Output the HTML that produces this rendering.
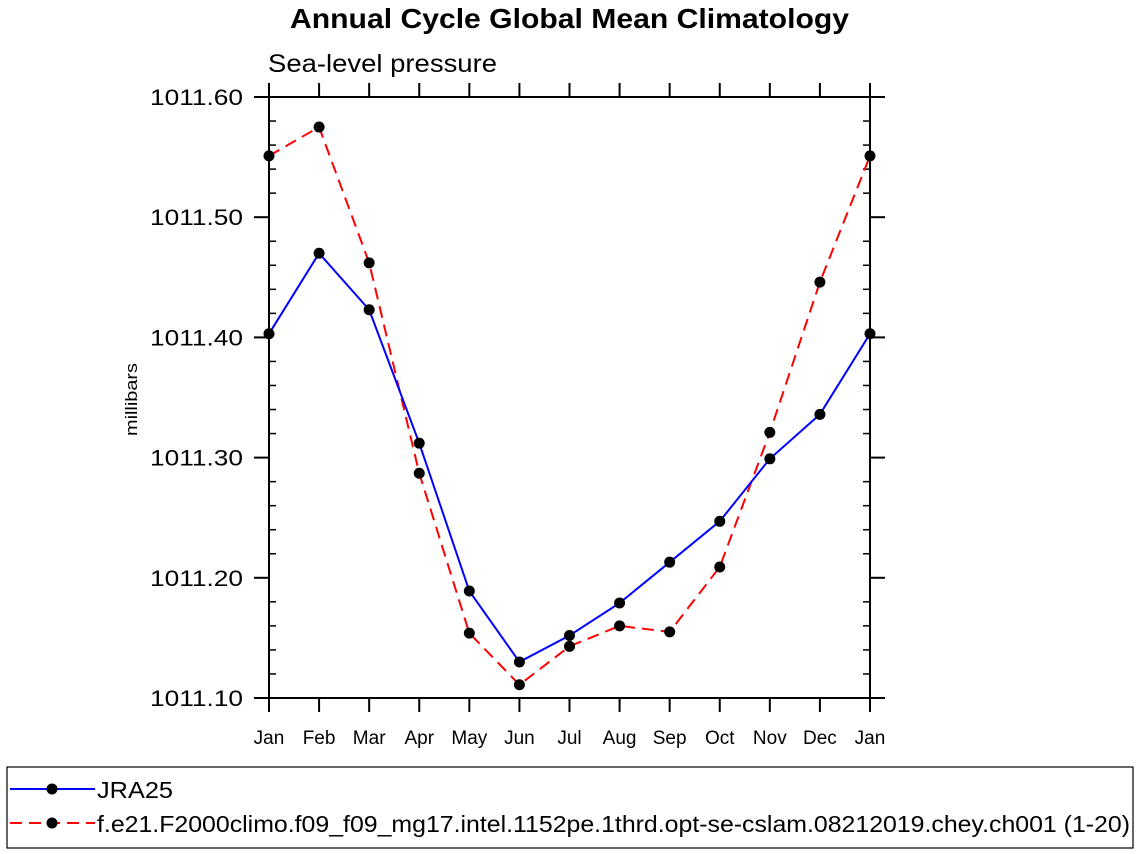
<!DOCTYPE html>
<html><head><meta charset="utf-8"><style>
body{margin:0;background:#fff;}
svg{display:block;font-family:"Liberation Sans",Arial,sans-serif;}
</style></head><body>
<svg id="chart" width="1138" height="854">
<text x="290" y="28" font-size="28" font-weight="bold" textLength="559" lengthAdjust="spacingAndGlyphs">Annual Cycle Global Mean Climatology</text>
<text x="268" y="72" font-size="25" textLength="229" lengthAdjust="spacingAndGlyphs">Sea-level pressure</text>
<text transform="translate(137,400) rotate(-90)" x="-36" y="0" font-size="17" textLength="73" lengthAdjust="spacingAndGlyphs">millibars</text>
<g id="axes"></g>
<g id="series"></g>
<g>
<rect x="7" y="767" width="1126" height="81" fill="none" stroke="#000" stroke-width="1.2"/>
<g>
<line x1="10" y1="789" x2="95" y2="789" stroke="#00f" stroke-width="2"/>
<circle cx="52" cy="789" r="5.5" fill="#000"/>
<text x="97" y="798" font-size="23" textLength="76" lengthAdjust="spacingAndGlyphs">JRA25</text></g>
<g>
<line x1="10" y1="823" x2="95" y2="823" stroke="#f00" stroke-width="2" stroke-dasharray="12,7"/>
<circle cx="52" cy="823" r="5.5" fill="#000"/>
<text x="97" y="832" font-size="23" textLength="1033" lengthAdjust="spacingAndGlyphs">f.e21.F2000climo.f09_f09_mg17.intel.1152pe.1thrd.opt-se-cslam.08212019.chey.ch001 (1-20)</text></g>
</g>
</svg>
<script>
const months=["Jan","Feb","Mar","Apr","May","Jun","Jul","Aug","Sep","Oct","Nov","Dec","Jan"];
const jra25=[1011.403,1011.470,1011.423,1011.312,1011.189,1011.130,1011.152,1011.179,1011.213,1011.247,1011.299,1011.336,1011.403];
const model=[1011.551,1011.575,1011.462,1011.287,1011.154,1011.111,1011.143,1011.160,1011.155,1011.209,1011.321,1011.446,1011.551];
const yTicks=[1011.10,1011.20,1011.30,1011.40,1011.50,1011.60];
const yMin=1011.10,yMax=1011.60;
const L=269,R=870,T=97,B=698;
const NS="http://www.w3.org/2000/svg";
const xs=i=>L+(R-L)*i/(months.length-1);
const ys=v=>B-(v-yMin)/(yMax-yMin)*(B-T);
function mk(tag,attrs,parent){const e=document.createElementNS(NS,tag);for(const k in attrs)e.setAttribute(k,attrs[k]);parent.appendChild(e);return e;}
const ax=document.getElementById('axes');
const frame=mk('rect',{x:L,y:T,width:R-L,height:B-T,fill:'none',stroke:'#000','stroke-width':2},ax);


yTicks.forEach(v=>{
  const y=ys(v);
  mk('line',{x1:L-15,y1:y,x2:L,y2:y,stroke:'#000','stroke-width':2},ax);
  mk('line',{x1:R,y1:y,x2:R+15,y2:y,stroke:'#000','stroke-width':2},ax);
  const t=mk('text',{x:150,y:y+8,'font-size':22,textLength:93,lengthAdjust:'spacingAndGlyphs'},ax);
  t.textContent=v.toFixed(2);
  
  
});
for(let k=0;k<yTicks.length-1;k++){for(let m=1;m<5;m++){
  const y=ys(yTicks[k]+(yTicks[k+1]-yTicks[k])*m/5);
  mk('line',{x1:L,y1:y,x2:L+7,y2:y,stroke:'#000','stroke-width':1.5},ax);
  mk('line',{x1:R-7,y1:y,x2:R,y2:y,stroke:'#000','stroke-width':1.5},ax);
}}
months.forEach((m,i)=>{
  const x=xs(i);
  mk('line',{x1:x,y1:B,x2:x,y2:B+14,stroke:'#000','stroke-width':2},ax);
  mk('line',{x1:x,y1:T-14,x2:x,y2:T,stroke:'#000','stroke-width':2},ax);
  const t=mk('text',{x:x,y:744,'text-anchor':'middle','font-size':19},ax);
  t.textContent=m;
  
  
});
const sg=document.getElementById('series');
function draw(vals,color,dash,name){
  const g=mk('g',{},sg);
  
  
  const p=mk('polyline',{points:vals.map((v,i)=>xs(i)+','+ys(v)).join(' '),fill:'none',stroke:color,'stroke-width':2,'stroke-dasharray':dash},g);
  
  
  vals.forEach((v,i)=>{
    const c=mk('circle',{cx:xs(i),cy:ys(v),r:5.5,fill:'#000'},g);
    
    
  });
}
draw(model,'#f00','12,7','model-series');
draw(jra25,'#00f','none','jra25-series');
</script>
</body></html>
